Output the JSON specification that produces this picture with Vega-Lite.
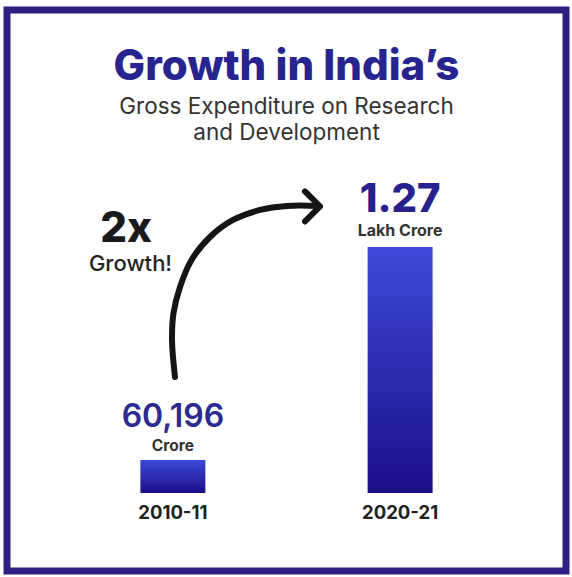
{
  "$schema": "https://vega.github.io/schema/vega-lite/v6.json",
  "width": 559,
  "height": 561,
  "autosize": {"type": "none"},
  "padding": {"left": 7, "top": 10, "right": 6, "bottom": 6},
  "background": "#ffffff",
  "config": {
    "view": {"stroke": "#2e2080", "strokeWidth": 7},
    "font": "Inter"
  },
  "title": {
    "text": "Growth in India’s",
    "subtitle": ["Gross Expenditure on Research", "and Development"],
    "anchor": "middle",
    "frame": "group",
    "offset": -135,
    "font": "Inter",
    "fontSize": 42,
    "fontWeight": 800,
    "color": "#28248f",
    "subtitleFont": "Inter",
    "subtitleFontSize": 22.5,
    "subtitleFontWeight": 400,
    "subtitleColor": "#333333",
    "subtitleLineHeight": 26,
    "subtitlePadding": 7
  },
  "datasets": {
    "bars": [
      {"year": "2010-11", "value": 60196, "label": "60,196", "unit": "Crore"},
      {"year": "2020-21", "value": 127000, "label": "1.27", "unit": "Lakh Crore"}
    ],
    "arrow": [
      {"order": 1, "f": 0.3005, "v": 86232},
      {"order": 2, "f": 0.2952, "v": 97835},
      {"order": 3, "f": 0.2979, "v": 106302},
      {"order": 4, "f": 0.3095, "v": 114456},
      {"order": 5, "f": 0.3301, "v": 122923},
      {"order": 6, "f": 0.3631, "v": 130136},
      {"order": 7, "f": 0.4043, "v": 135467},
      {"order": 8, "f": 0.4526, "v": 138603},
      {"order": 9, "f": 0.5009, "v": 139858},
      {"order": 10, "f": 0.5564, "v": 139858}
    ],
    "arrowhead": [
      {"f": 0.5599, "v": 139700}
    ],
    "notes": [
      {"key": "big", "f": 0.2129, "v": 128568, "text": "2x"},
      {"key": "small", "f": 0.2209, "v": 119474, "text": "Growth!"}
    ]
  },
  "layer": [
    {
      "data": {"name": "bars"},
      "encoding": {
        "x": {"field": "year", "type": "nominal", "scale": {"paddingInner": 0, "paddingOuter": 0.23}, "axis": null},
        "y": {"field": "value", "type": "quantitative", "scale": {"domain": [25400, 201300], "nice": false, "zero": false}, "axis": null}
      },
      "layer": [
        {
          "mark": {
            "type": "bar",
            "width": {"band": 0.286},
            "color": {
              "gradient": "linear", "x1": 0, "y1": 0, "x2": 0, "y2": 1,
              "stops": [{"offset": 0, "color": "#3b4ad8"}, {"offset": 1, "color": "#1b0e88"}]
            }
          },
          "encoding": {"y2": {"datum": 49850}}
        },
        {
          "transform": [{"filter": "datum.year == '2010-11'"}],
          "mark": {"type": "text", "baseline": "alphabetic", "dy": -33, "fontSize": 32, "fontWeight": 600, "color": "#2b2b90", "font": "Inter"},
          "encoding": {"text": {"field": "label"}}
        },
        {
          "transform": [{"filter": "datum.year == '2010-11'"}],
          "mark": {"type": "text", "baseline": "alphabetic", "dy": -9, "fontSize": 15.5, "fontWeight": 700, "color": "#333333", "font": "Inter"},
          "encoding": {"text": {"field": "unit"}}
        },
        {
          "transform": [{"filter": "datum.year == '2020-21'"}],
          "mark": {"type": "text", "baseline": "alphabetic", "dy": -35, "fontSize": 40, "fontWeight": 800, "color": "#26218c", "font": "Inter"},
          "encoding": {"text": {"field": "label"}}
        },
        {
          "transform": [{"filter": "datum.year == '2020-21'"}],
          "mark": {"type": "text", "baseline": "alphabetic", "dy": -11, "fontSize": 16, "fontWeight": 700, "color": "#333333", "font": "Inter"},
          "encoding": {"text": {"field": "unit"}}
        },
        {
          "mark": {"type": "text", "baseline": "alphabetic", "dy": 26, "fontSize": 18.5, "fontWeight": 700, "color": "#222222", "font": "Inter"},
          "encoding": {"text": {"field": "year"}, "y": {"datum": 49850}}
        }
      ]
    },
    {
      "layer": [
        {
          "data": {"name": "arrow"},
          "mark": {"type": "line", "interpolate": "catmull-rom", "strokeWidth": 6, "color": "#151515", "strokeCap": "round"},
          "encoding": {
            "x": {"field": "f", "type": "quantitative", "scale": {"domain": [0, 1], "nice": false, "zero": false}, "axis": null},
            "y": {"field": "v", "type": "quantitative", "scale": {"domain": [25400, 201300], "nice": false, "zero": false}, "axis": null},
            "order": {"field": "order"}
          }
        },
        {
          "data": {"name": "arrowhead"},
          "mark": {"type": "point", "shape": "M-1,-1L0,0L-1,1", "size": 900, "filled": false, "opacity": 1, "stroke": "#151515", "strokeWidth": 6, "strokeCap": "round", "strokeJoin": "round"},
          "encoding": {
            "x": {"field": "f", "type": "quantitative", "scale": {"domain": [0, 1], "nice": false, "zero": false}, "axis": null},
            "y": {"field": "v", "type": "quantitative", "scale": {"domain": [25400, 201300], "nice": false, "zero": false}, "axis": null}
          }
        },
        {
          "data": {"name": "notes"},
          "transform": [{"filter": "datum.key == 'big'"}],
          "mark": {"type": "text", "baseline": "alphabetic", "fontSize": 42, "fontWeight": 800, "color": "#1a1a1a", "font": "Inter"},
          "encoding": {
            "x": {"field": "f", "type": "quantitative", "scale": {"domain": [0, 1], "nice": false, "zero": false}, "axis": null},
            "y": {"field": "v", "type": "quantitative", "scale": {"domain": [25400, 201300], "nice": false, "zero": false}, "axis": null},
            "text": {"field": "text"}
          }
        },
        {
          "data": {"name": "notes"},
          "transform": [{"filter": "datum.key == 'small'"}],
          "mark": {"type": "text", "baseline": "alphabetic", "fontSize": 22, "fontWeight": 500, "color": "#222222", "font": "Inter"},
          "encoding": {
            "x": {"field": "f", "type": "quantitative", "scale": {"domain": [0, 1], "nice": false, "zero": false}, "axis": null},
            "y": {"field": "v", "type": "quantitative", "scale": {"domain": [25400, 201300], "nice": false, "zero": false}, "axis": null},
            "text": {"field": "text"}
          }
        }
      ]
    }
  ],
  "resolve": {"scale": {"x": "independent"}}
}
